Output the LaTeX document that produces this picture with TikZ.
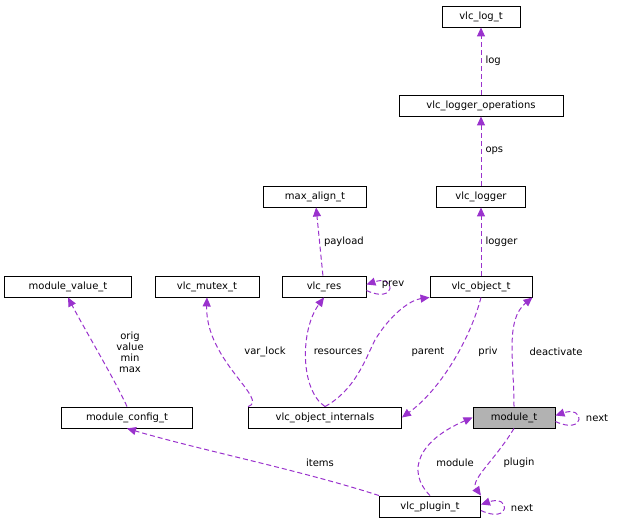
\documentclass[tikz,border=0pt]{standalone}
\usepackage{fontspec}
\setmainfont{DejaVu Sans}
\usetikzlibrary{arrows.meta}
\definecolor{edge}{HTML}{9A32CD}
\begin{document}
\begin{tikzpicture}[x=1pt,y=-1pt,
  box/.style={draw=black,fill=white,minimum height=21pt,inner xsep=3pt,font=\fontsize{10}{11}\selectfont,line width=0.9pt},
  e/.style={draw=edge,dashed,dash pattern=on 5pt off 3pt,line width=1pt,-{Triangle[length=9pt,width=8pt,fill=edge]}},
  lab/.style={font=\fontsize{10}{11}\selectfont,align=center,inner sep=1pt}]
\useasboundingbox (0,0) rectangle (618,528);
\node[box,minimum width=78pt] (log) at (481,16.5) {vlc\_log\_t};
\node[box,minimum width=164pt] (ops) at (481,105.5) {vlc\_logger\_operations};
\node[box,minimum width=89pt] (logger) at (481,196.5) {vlc\_logger};
\node[box,minimum width=103pt] (max) at (315,196.5) {max\_align\_t};
\node[box,minimum width=127pt] (mv) at (68,286.5) {module\_value\_t};
\node[box,minimum width=104pt] (mutex) at (207,286.5) {vlc\_mutex\_t};
\node[box,minimum width=84pt] (res) at (324,286.5) {vlc\_res};
\node[box,minimum width=102pt] (obj) at (481,286.5) {vlc\_object\_t};
\node[box,minimum width=131pt] (mc) at (127,417.5) {module\_config\_t};
\node[box,minimum width=153pt] (oi) at (325,417.5) {vlc\_object\_internals};
\node[box,minimum width=82pt,fill=black!30] (mod) at (514,417.5) {module\_t};
\node[box,minimum width=101pt] (plug) at (430,506.5) {vlc\_plugin\_t};

\draw[e] (ops) -- node[lab,right=3pt]{log} (log);
\draw[e] (logger) -- node[lab,right=3pt]{ops} (ops);
\draw[e] (obj) -- node[lab,right=3pt]{logger} (logger);
\draw[e] (res) -- node[lab,right=3pt]{payload} (max);
\draw[e] ([yshift=-4pt]res.east) .. controls +(30,14) and +(30,-10) .. ([yshift=2pt]res.east);
\node[lab] at (393,285) {prev};
\draw[e] (mc.north) .. controls (115,380) and (85,330) .. (mv.south) ;
\node[lab] at (130,352) {orig\\value\\min\\max};
\draw[e] (oi.north west) .. controls (270,400) and (205,360) .. (mutex.south);
\node[lab] at (265,352) {var\_lock};
\draw[e] (oi.north) .. controls (300,390) and (300,330) .. (res.south);
\node[lab] at (338,352) {resources};
\draw[e] (oi.north) .. controls (355,390) and (365,360) .. (375,340) .. controls (390,315) and (410,300) .. (obj.south west);
\node[lab] at (428,352) {parent};
\draw[e] (obj.south) .. controls (470,340) and (440,390) .. (oi.east);
\node[lab] at (488,352) {priv};
\draw[e] (mod.north) .. controls (514,360) and (505,320) .. (obj.south east);
\node[lab] at (556,352) {deactivate};
\draw[e] ([yshift=-4pt]mod.east) .. controls +(30,14) and +(30,-10) .. ([yshift=2pt]mod.east);
\node[lab] at (597,418) {next};
\draw[e] (plug.north west) .. controls (300,470) and (200,450) .. (mc.south);
\node[lab] at (320,463) {items};
\draw[e] (plug.north) .. controls (405,470) and (420,440) .. (mod.west);
\node[lab] at (455,463) {module};
\draw[e] (mod.south) .. controls (495,460) and (470,480) .. (plug.north east);
\node[lab] at (519,463) {plugin};
\draw[e] ([yshift=-4pt]plug.east) .. controls +(30,14) and +(30,-10) .. ([yshift=2pt]plug.east);
\node[lab] at (522,508) {next};
\end{tikzpicture}
\end{document}
